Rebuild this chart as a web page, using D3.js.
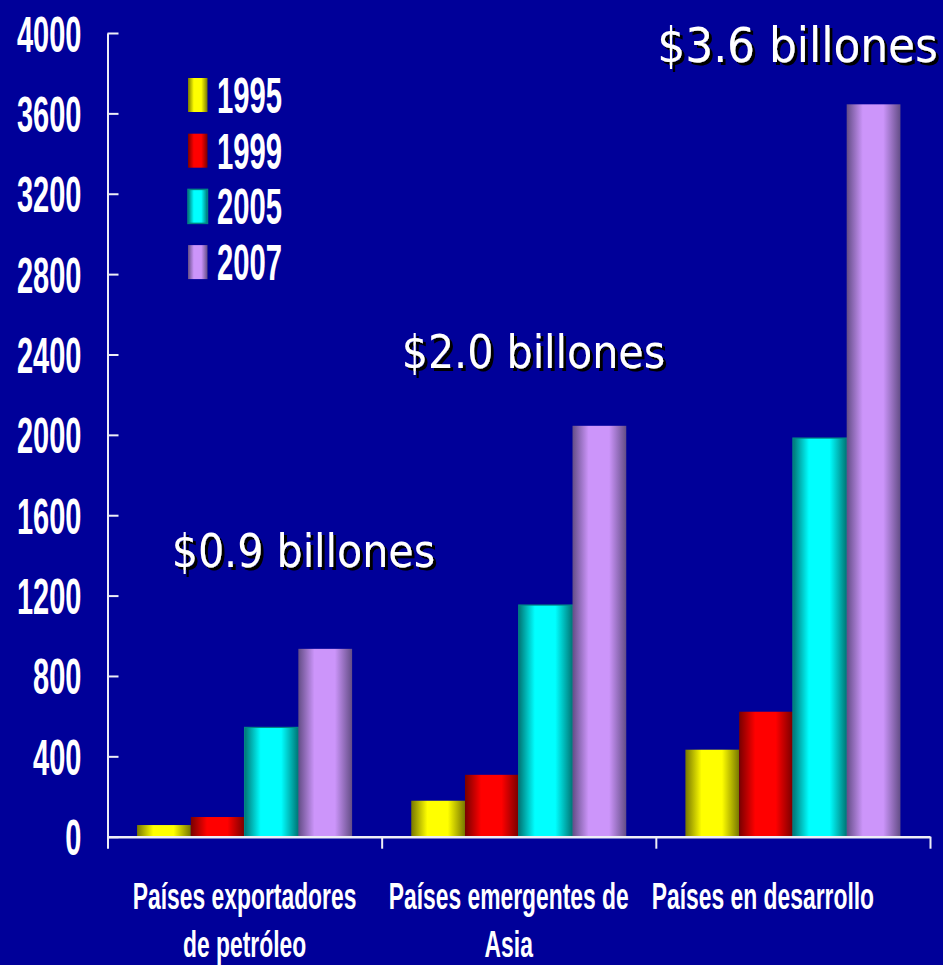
<!DOCTYPE html>
<html>
<head>
<meta charset="utf-8">
<script src="https://cdn.jsdelivr.net/npm/d3@7"></script>
<style>
  html, body { margin: 0; padding: 0; background: #000099; }
  svg { display: block; }
</style>
</head>
<body>
<svg id="chart" width="943" height="965"></svg>
<script>
// Reservas internacionales (miles de millones de US$)
const categories = ["Países exportadores de petróleo", "Países emergentes de Asia", "Países en desarrollo"];
const categoryLines = [["Países exportadores", "de petróleo"], ["Países emergentes de", "Asia"], ["Países en desarrollo"]];
const years = ["1995", "1999", "2005", "2007"];
const values1995 = [58, 179, 433];
const values1999 = [98, 308, 622];
const values2005 = [544, 1153, 1984];
const values2007 = [935, 2045, 3645];
const yTicks = [0, 400, 800, 1200, 1600, 2000, 2400, 2800, 3200, 3600, 4000];

const series = [values1995, values1999, values2005, values2007];

// colour pairs for the cylinder shading: edge (dark) and centre (bright)
const shades = {
  "1995": { dark: "#777700", bright: "#ffff00" },
  "1999": { dark: "#780000", bright: "#ff0000" },
  "2005": { dark: "#007575", bright: "#00ffff" },
  "2007": { dark: "#634d86", bright: "#cc95fa" }
};

const svg = d3.select("#chart");
const W = 943, H = 965;
svg.append("rect").attr("width", W).attr("height", H).attr("fill", "#000099");

const plot = { left: 107.5, right: 930, top: 33, bottom: 836.7 };

const y = d3.scaleLinear().domain([0, 4000]).range([plot.bottom, plot.top]);
const x0 = d3.scaleBand().domain(categories).range([plot.left, plot.right]).paddingInner(0).paddingOuter(0);
const x1 = d3.scaleBand().domain(years).range([0, x0.bandwidth()]).paddingInner(0).paddingOuter(0.55);

// gradients and text shadow
const defs = svg.append("defs");
years.forEach(yr => {
  const g = defs.append("linearGradient").attr("id", "g" + yr)
    .attr("x1", "0%").attr("x2", "100%").attr("y1", "0%").attr("y2", "0%");
  g.append("stop").attr("offset", "0%").attr("stop-color", shades[yr].dark);
  g.append("stop").attr("offset", "30%").attr("stop-color", shades[yr].bright);
  g.append("stop").attr("offset", "68%").attr("stop-color", shades[yr].bright);
  g.append("stop").attr("offset", "100%").attr("stop-color", shades[yr].dark);
});
const shadow = defs.append("filter").attr("id", "shadow")
  .attr("x", "-5%").attr("y", "-20%").attr("width", "115%").attr("height", "150%");
shadow.append("feOffset").attr("in", "SourceAlpha").attr("dx", 2.5).attr("dy", 2.5).attr("result", "off");
shadow.append("feFlood").attr("flood-color", "#000000").attr("result", "blk");
shadow.append("feComposite").attr("in", "blk").attr("in2", "off").attr("operator", "in").attr("result", "sh");
const merge = shadow.append("feMerge");
merge.append("feMergeNode").attr("in", "sh");
merge.append("feMergeNode").attr("in", "SourceGraphic");

// bars
const rows = categories.map((c, i) => ({ cat: c, vals: years.map((yr, j) => ({ yr, v: series[j][i] })) }));
const groups = svg.append("g").selectAll("g").data(rows).join("g")
  .attr("transform", d => `translate(${x0(d.cat)},0)`);
groups.selectAll("rect").data(d => d.vals).join("rect")
  .attr("x", d => x1(d.yr))
  .attr("width", x1.bandwidth())
  .attr("y", d => y(d.v))
  .attr("height", d => y(0) - y(d.v))
  .attr("fill", d => `url(#g${d.yr})`)
  .attr("stroke", d => d.yr === "2005" ? "#008585" : "none")
  .attr("stroke-width", 1.2);

// y axis
const axisColor = "#eeeef6";
const sxTick = 0.58;
const yAxis = svg.append("g").attr("transform", `translate(${plot.left},0)`)
  .call(d3.axisLeft(y).tickValues(yTicks).tickFormat(d3.format("d"))
    .tickSizeInner(-11).tickSizeOuter(0).tickPadding(26));
yAxis.select(".domain").attr("stroke", axisColor).attr("stroke-width", 2);
yAxis.selectAll(".tick line").attr("stroke", axisColor).attr("stroke-width", 2);
yAxis.selectAll(".tick text")
  .attr("fill", "#ffffff")
  .attr("font-family", "'Liberation Sans', Arial, sans-serif")
  .attr("font-weight", "bold")
  .attr("font-size", 50)
  .attr("x", -26 / sxTick)
  .attr("dy", "0.36em")
  .attr("transform", `scale(${sxTick},1)`);

// x axis with boundary ticks between categories
const xb = d3.scaleLinear().domain([0, categories.length]).range([plot.left, plot.right]);
const xAxis = svg.append("g").attr("transform", `translate(0,${plot.bottom})`)
  .call(d3.axisBottom(xb).tickValues(d3.range(categories.length + 1)).tickSizeInner(12).tickSizeOuter(0).tickFormat(""));
xAxis.select(".domain").attr("stroke", axisColor).attr("stroke-width", 2.5);
xAxis.selectAll(".tick line").attr("stroke", axisColor).attr("stroke-width", 2);

// category labels
const sxCat = 0.635;
const labelShift = [0, -10, -30];
const catG = svg.append("g");
categories.forEach((c, i) => {
  const cx = x0(c) + x0.bandwidth() / 2 + labelShift[i];
  const t = catG.append("text")
    .attr("transform", `translate(${cx},908.5) scale(${sxCat},1)`)
    .attr("text-anchor", "middle")
    .attr("fill", "#ffffff")
    .attr("font-family", "'Liberation Sans', Arial, sans-serif")
    .attr("font-weight", "bold")
    .attr("font-size", 36);
  categoryLines[i].forEach((line, k) => {
    t.append("tspan").attr("x", 0).attr("y", k * 49).text(line);
  });
});

// legend
const legend = svg.append("g").attr("transform", "translate(188,78)");
const legRow = 55.7;
years.forEach((yr, i) => {
  const g = legend.append("g").attr("transform", `translate(0,${i * legRow})`);
  g.append("rect").attr("width", 19.5).attr("height", 34)
    .attr("fill", `url(#g${yr})`)
    .attr("stroke", yr === "2005" ? "#008585" : "none")
    .attr("stroke-width", 1.5);
  g.append("text")
    .attr("transform", `translate(29,17) scale(0.585,1)`)
    .attr("dy", "0.36em")
    .attr("fill", "#ffffff")
    .attr("font-family", "'Liberation Sans', Arial, sans-serif")
    .attr("font-weight", "bold")
    .attr("font-size", 50)
    .text(yr);
});

// totals above each group
const fmt = v => `$${(v / 1000).toFixed(1)} billones`;
const notes = [
  { i: 0, x: 171.7, y: 566.7, size: 45.8 },
  { i: 1, x: 401.7, y: 367.7, size: 45.8 },
  { i: 2, x: 657.3, y: 61.7, size: 48.8 }
];
const noteG = svg.append("g")
  .attr("font-family", "'DejaVu Sans Condensed', 'DejaVu Sans', Tahoma, sans-serif")
  .attr("filter", "url(#shadow)");
notes.forEach(n => {
  noteG.append("text").attr("x", n.x).attr("y", n.y)
    .attr("font-size", n.size).attr("fill", "#ffffff")
    .text(fmt(values2007[n.i]));
});
</script>
</body>
</html>
